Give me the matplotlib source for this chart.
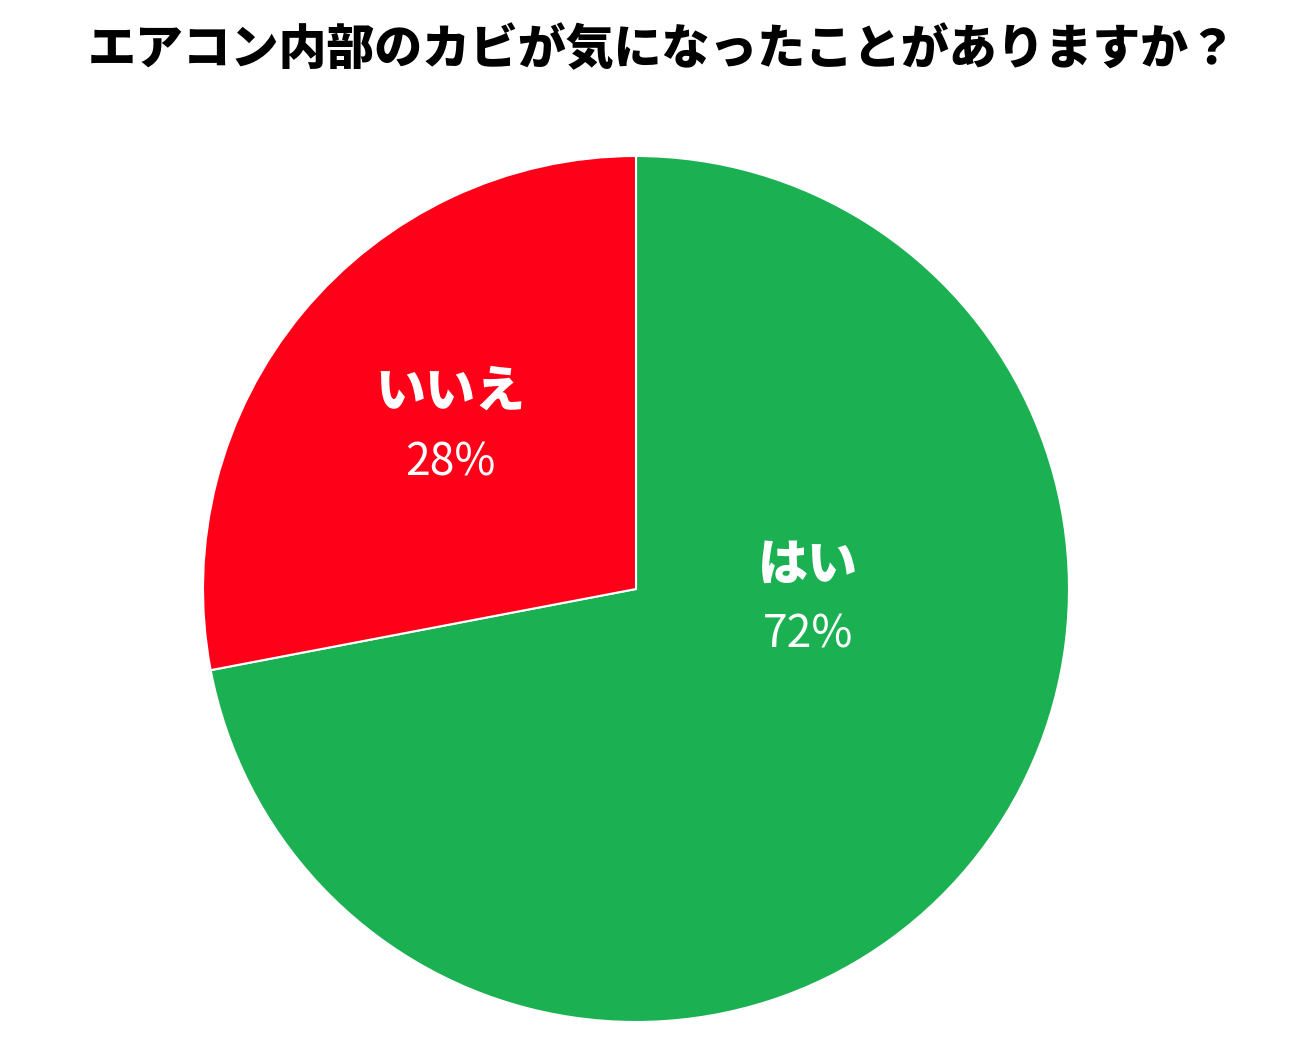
import matplotlib
matplotlib.use("Agg")
import matplotlib.pyplot as plt

plt.rcParams['font.family'] = ['Noto Sans CJK JP', 'DejaVu Sans']

# data
labels = ["はい", "いいえ"]
values = [72, 28]
colors = ["#1bb152", "#ff0019"]
title = "エアコン内部のカビが気になったことがありますか？"

W, H = 1299, 1053
fig = plt.figure(figsize=(W / 100, H / 100), dpi=100)

# pie centre (636, 589) px, radius 433 px
cx, cy, r = 636, 589, 433
ax = fig.add_axes([(cx - r) / W, (H - cy - r) / H, 2 * r / W, 2 * r / H])
ax.pie(values, colors=colors, startangle=90, counterclock=False, radius=1,
       wedgeprops=dict(edgecolor="white", linewidth=1.5))
ax.set_xlim(-1, 1)
ax.set_ylim(-1, 1)
ax.set_aspect("equal")
ax.axis("off")

# label positions in pixels -> data coords
label_px = [(808, 565, 635), (450, 392, 462)]
for (px, py1, py2), lab, val in zip(label_px, labels, values):
    x = (px - cx) / r
    ax.text(x, (cy - py1) / r, lab, ha="center", va="center", color="white",
            fontsize=36, fontweight="black")
    ax.text(x, (cy - py2) / r, f"{val}%", ha="center", va="center", color="white",
            fontsize=32)

fig.text(662 / W, 1 - 50 / H, title, ha="center", va="center", fontsize=34.5,
         fontweight="black", color="black")

fig.savefig("out.png", dpi=100, facecolor="white")
